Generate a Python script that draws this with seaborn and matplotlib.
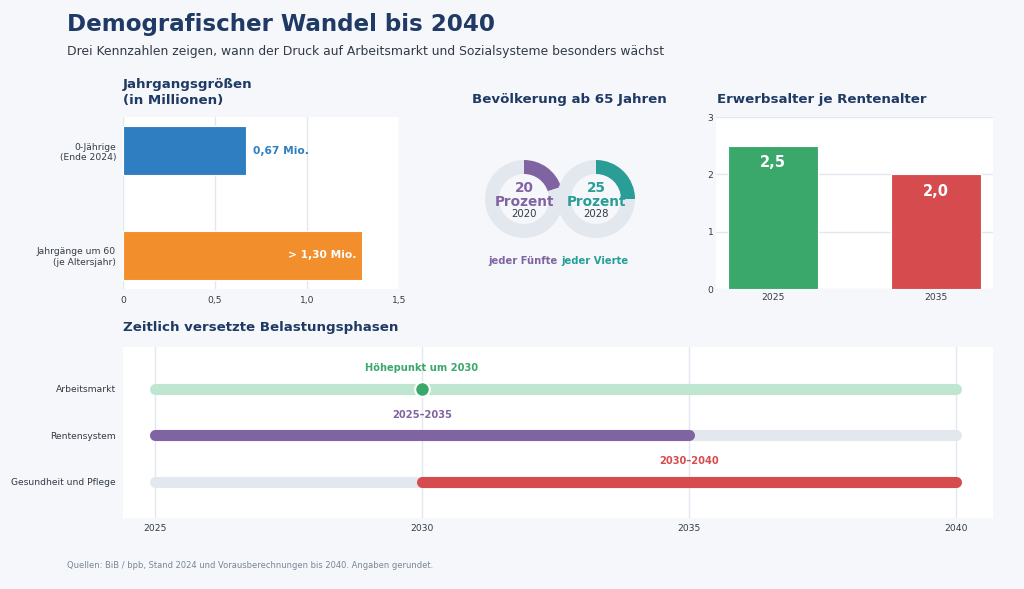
import numpy as np
import matplotlib
matplotlib.use("Agg")
import matplotlib.pyplot as plt
import seaborn as sns

# ---------------- data ----------------
cohort_labels = ["0-Jährige\n(Ende 2024)", "Jahrgänge um 60\n(je Altersjahr)"]
cohort_values = [0.67, 1.30]
cohort_text = ["0,67 Mio.", "> 1,30 Mio."]

senior_share = [20, 25]
senior_years = ["2020", "2028"]
senior_words = ["jeder Fünfte", "jeder Vierte"]

ratio_years = ["2025", "2035"]
ratio_values = [2.5, 2.0]
ratio_text = ["2,5", "2,0"]

phase_rows = ["Arbeitsmarkt", "Rentensystem", "Gesundheit und Pflege"]
phase_start = [2025, 2025, 2030]
phase_end = [2040, 2035, 2040]
phase_labels = ["Höhepunkt um 2030", "2025–2035", "2030–2040"]
phase_label_x = [2030, 2030, 2035]
peak_year = 2030

# ---------------- style ----------------
sns.set_theme(style="white")
plt.rcParams['font.family'] = ['DejaVu Sans']

BG = "#f5f7fb"
NAVY = "#1f3a64"
TXT = "#333a44"
GRID = "#e3e8f0"
TRACK = "#e3e8ef"
BLUE = "#2e7ec1"
ORANGE = "#f28e2b"
PURPLE = "#8064a2"
TEAL = "#2a9d96"
GREEN = "#3aa86b"
LIGHTGREEN = "#bfe6d1"
RED = "#d64c4e"
TICK = 6.6

W, H = 1024, 589
fig = plt.figure(figsize=(W / 100, H / 100), dpi=100, facecolor=BG)


def px_axes(l, t, r, b):
    return fig.add_axes([l / W, 1 - b / H, (r - l) / W, (b - t) / H])


def clean(ax):
    ax.set_facecolor("white")
    for s in ax.spines.values():
        s.set_visible(False)
    ax.tick_params(length=0, labelsize=TICK, colors=TXT)
    ax.set_xlabel("")
    ax.set_ylabel("")


# headings
fig.text(67 / W, 1 - 25 / H, "Demografischer Wandel bis 2040", fontsize=16.6,
         fontweight="bold", color=NAVY, va="center", ha="left")
fig.text(67 / W, 1 - 51 / H,
         "Drei Kennzahlen zeigen, wann der Druck auf Arbeitsmarkt und Sozialsysteme besonders wächst",
         fontsize=8.9, color=TXT, va="center", ha="left")

# ---------------- panel 1: cohort sizes ----------------
ax1 = px_axes(123, 117, 399, 289)
sns.barplot(x=cohort_values, y=cohort_labels, hue=cohort_labels, orient="h",
            palette=[BLUE, ORANGE], legend=False, width=0.47, ax=ax1, saturation=1,
            edgecolor="white", linewidth=0.8)
clean(ax1)
ax1.set_xlim(0, 1.5)
ax1.set_ylim(1.32, -0.32)
ax1.set_xticks([0, 0.5, 1.0, 1.5])
ax1.set_xticklabels(["0", "0,5", "1,0", "1,5"])
ax1.xaxis.grid(True, color=GRID, linewidth=1)
ax1.set_axisbelow(True)
ax1.tick_params(axis="y", pad=5)
ax1.tick_params(axis="x", pad=5)
ax1.text(cohort_values[0] + 0.035, 0, cohort_text[0], color=BLUE, fontsize=7.7,
         fontweight="bold", va="center", ha="left")
ax1.text(cohort_values[1] - 0.03, 1, cohort_text[1], color="white", fontsize=7.7,
         fontweight="bold", va="center", ha="right")
fig.text(123 / W, 1 - 78 / H, "Jahrgangsgrößen\n(in Millionen)", fontsize=9.6,
         fontweight="bold", color=NAVY, va="top", ha="left", linespacing=1.27)

# ---------------- panel 2: donuts ----------------
ax2 = px_axes(460, 120, 680, 280)
donut_x = [524, 596]
donut_c = [PURPLE, TEAL]
for i in range(2):
    ax2.pie([senior_share[i], 100 - senior_share[i]], colors=[donut_c[i], TRACK],
            startangle=90, counterclock=False, radius=39, center=(donut_x[i], -199),
            wedgeprops=dict(width=14, edgecolor="none"))
    ax2.text(donut_x[i], -188, str(senior_share[i]), color=donut_c[i], fontsize=9.8,
             fontweight="bold", ha="center", va="center")
    ax2.text(donut_x[i], -202.5, "Prozent", color=donut_c[i], fontsize=9.8,
             fontweight="bold", ha="center", va="center")
    ax2.text(donut_x[i], -214, senior_years[i], color=TXT, fontsize=7.3,
             ha="center", va="center")
    ax2.text(donut_x[i] - 1, -261, senior_words[i], color=donut_c[i], fontsize=7.2,
             fontweight="bold", ha="center", va="center")
ax2.set_xlim(460, 680)
ax2.set_ylim(-280, -120)
ax2.set_aspect("equal")
ax2.axis("off")
fig.text(569 / W, 1 - 100 / H, "Bevölkerung ab 65 Jahren", fontsize=9.6,
         fontweight="bold", color=NAVY, va="center", ha="center")

# ---------------- panel 3: support ratio ----------------
ax3 = px_axes(716, 117, 993, 289)
sns.barplot(x=ratio_years, y=ratio_values, hue=ratio_years, palette=[GREEN, RED],
            legend=False, width=0.55, ax=ax3, saturation=1,
            edgecolor="white", linewidth=0.8)
clean(ax3)
ax3.set_ylim(0, 3)
ax3.set_xlim(-0.35, 1.35)
ax3.set_yticks([0, 1, 2, 3])
ax3.yaxis.grid(True, color=GRID, linewidth=1)
ax3.set_axisbelow(True)
ax3.tick_params(axis="y", pad=2)
ax3.tick_params(axis="x", pad=3)
for i, v in enumerate(ratio_values):
    ax3.annotate(ratio_text[i], (i, v), xytext=(0, -12), textcoords="offset points",
                 color="white", fontsize=10.5, fontweight="bold", ha="center", va="center")
fig.text(717 / W, 1 - 100 / H, "Erwerbsalter je Rentenalter", fontsize=9.6,
         fontweight="bold", color=NAVY, va="center", ha="left")

# ---------------- panel 4: timeline ----------------
ax4 = px_axes(123, 347, 993, 518)
clean(ax4)
row_colors = [GREEN, PURPLE, RED]
lw = 8
for i, row in enumerate(phase_rows):
    track = LIGHTGREEN if i == 0 else TRACK
    ax4.plot([2025, 2040], [i, i], color=track, lw=lw, solid_capstyle="round", zorder=2)
    if i > 0:
        ax4.plot([phase_start[i], phase_end[i]], [i, i], color=row_colors[i], lw=lw,
                 solid_capstyle="round", zorder=3)
    ax4.text(phase_label_x[i], i - 0.44, phase_labels[i], color=row_colors[i],
             fontsize=7.1, fontweight="bold", ha="center", va="center")
ax4.scatter([peak_year], [0], s=110, color=GREEN, edgecolor="white", linewidth=1.5, zorder=4)
ax4.set_xlim(2024.4, 2040.7)
ax4.set_ylim(2.78, -0.9)
ax4.set_xticks([2025, 2030, 2035, 2040])
ax4.set_yticks(range(len(phase_rows)))
ax4.set_yticklabels(phase_rows)
ax4.xaxis.grid(True, color=GRID, linewidth=1)
ax4.set_axisbelow(True)
ax4.tick_params(axis="y", pad=5)
ax4.tick_params(axis="x", pad=4)
fig.text(123 / W, 1 - 328 / H, "Zeitlich versetzte Belastungsphasen", fontsize=9.6,
         fontweight="bold", color=NAVY, va="center", ha="left")

fig.text(67 / W, 1 - 565 / H,
         "Quellen: BiB / bpb, Stand 2024 und Vorausberechnungen bis 2040. Angaben gerundet.",
         fontsize=6.05, color="#7a8597", va="center", ha="left")

fig.savefig("out.png", dpi=100, facecolor=BG)
